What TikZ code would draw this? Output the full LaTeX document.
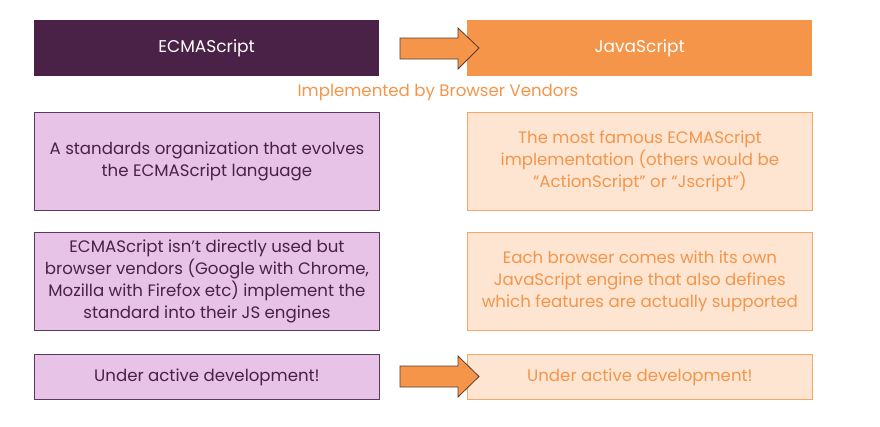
\documentclass[tikz,border=0pt]{standalone}
\usepackage{fontspec}
\setmainfont{Poppins}
\usetikzlibrary{positioning}
\definecolor{dpurple}{HTML}{4A2147}
\definecolor{lpurple}{HTML}{E6C3E7}
\definecolor{pborder}{HTML}{5B3B58}
\definecolor{orng}{HTML}{F4954A}
\definecolor{lorng}{HTML}{FDE5D2}
\definecolor{oborder}{HTML}{F2A86A}
\definecolor{aborder}{HTML}{5A3A30}
\begin{document}
\begin{tikzpicture}[x=1pt,y=-1pt,
  hdr/.style={minimum width=345pt,minimum height=56pt,inner sep=0pt,font=\fontsize{17}{20}\selectfont,anchor=north west},
  lbox/.style={draw=pborder,line width=0.9pt,fill=lpurple,text=dpurple,minimum width=345pt,inner sep=0pt,align=center,font=\fontsize{16.6}{22}\selectfont,anchor=north west},
  rbox/.style={draw=oborder,line width=0.8pt,fill=lorng,text=orng,minimum width=345pt,inner sep=0pt,align=center,font=\fontsize{16.6}{22}\selectfont,anchor=north west},
  barrow/.style={fill=orng,draw=aborder,line width=0.8pt,line join=miter}]
\useasboundingbox (0,0) rectangle (880,426);
\node[hdr,fill=dpurple,text=white] (ecma) at (34,20) {ECMAScript};
\node[hdr,fill=orng,text=white] (js) at (467,20) {JavaScript};
\node[text=orng,font=\fontsize{16.6}{20}\selectfont] (impl) at (438,93) {Implemented by Browser Vendors};
\node[lbox,minimum height=98pt] (a1) at (34,112) {A standards organization that evolves\\the ECMAScript language};
\node[rbox,minimum height=98pt] (b1) at (467,112) {The most famous ECMAScript\\implementation (others would be\\“ActionScript” or “Jscript”)};
\node[lbox,minimum height=98pt] (a2) at (34,232) {ECMAScript isn’t directly used but\\browser vendors (Google with Chrome,\\Mozilla with Firefox etc) implement the\\standard into their JS engines};
\node[rbox,minimum height=98pt] (b2) at (467,232) {Each browser comes with its own\\JavaScript engine that also defines\\which features are actually supported};
\node[lbox,minimum height=45pt] (a3) at (34,354) {Under active development!};
\node[rbox,minimum height=45pt] (b3) at (467,354) {Under active development!};
% block arrows
\draw[barrow] (400,38) -- (458,38) -- (458,28) -- (479,48) -- (458,69) -- (458,59) -- (400,59) -- cycle;
\draw[barrow] (400,366) -- (458,366) -- (458,356) -- (479,376.5) -- (458,397) -- (458,387) -- (400,387) -- cycle;
\end{tikzpicture}
\end{document}
